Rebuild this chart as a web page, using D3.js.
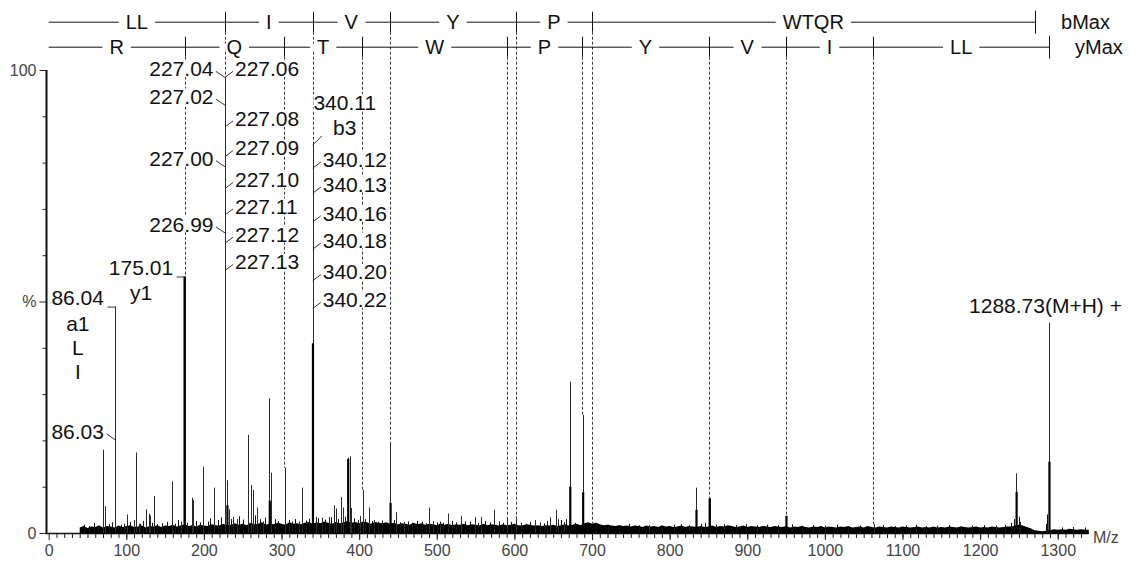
<!DOCTYPE html>
<html><head><meta charset="utf-8">
<script src="https://cdn.jsdelivr.net/npm/d3@7"></script>
<style>body{margin:0;background:#fff;} svg{display:block;font-family:"Liberation Sans",Arial,sans-serif;}</style>
</head><body><svg id="c" width="1131" height="562"></svg>
<script>
// ---------- DATA ----------
// main peaks: [m/z, relative intensity %]
const peaks = [
 [69.9,18.0],[72.0,5.8],[86.1,48.9],[101.3,4.0],[110.0,2.8],[112.9,17.4],[115.9,2.0],
 [125.8,5.1],[128.8,4.2],[130.2,3.8],[136.1,8.0],[159.0,11.2],[170.0,2.5],[175.12,55.4],
 [184.7,7.6],[186.0,7.1],[199.0,14.3],[212.7,9.8],[227.18,98.4],[230.0,11.4],[232.9,5.1],
 [237.0,3.5],[242.0,3.0],[257.0,21.2],[260.9,10.4],[263.0,9.3],[269.0,5.5],[276.0,2.5],
 [284.1,29.1],[286.7,13.0],[303.9,14.1],[322.0,2.5],[326.0,3.3],[326.7,9.8],[340.26,83.8],
 [343.9,3.5],[352.5,3.3],[361.0,3.5],[367.5,6.0],[370.0,5.3],[376.0,7.8],[379.6,5.5],
 [385.5,16.3],[387.7,16.6],[389.0,5.4],[401.0,3.7],[404.5,9.3],[412.7,5.5],[419.0,2.8],
 [439.3,19.4],[448.0,4.5],[457.8,2.4],[490.0,5.5],[495.7,2.6],[504.0,2.5],[514.0,4.2],
 [531.0,3.7],[549.0,3.5],[557.6,3.5],[574.0,5.0],[590.0,3.5],[602.4,3.6],[627.0,2.8],
 [646.0,3.4],[653.5,5.0],[656.0,3.0],[663.5,2.4],[671.2,32.7],[688.0,25.5],[773.0,1.7],
 [833.5,5.0],[834.2,9.8],[851.4,7.5],[950.3,3.7],[1063.5,1.9],[1246.2,12.9],[1288.73,45.4]
];
// broad (thick) parts of the strongest clusters: [m/z, intensity %]
const thickPeaks = [
 [175.12,55.4],[284.9,7.0],[340.5,41.0],[440.5,6.5],[672.0,10.0],[688.6,8.8],
 [834.6,5.0],[851.6,7.5],[950.5,3.7],[1247.0,8.9],[1289.3,15.4],[385.9,16.0],[230.3,6.0]
];
// small noise spikes: [m/z, intensity %]
const spikes = [
 [45,1.8],[52,1.5],[58,2.2],[63,1.6],[78,1.9],[82,2.3],[93,1.8],[97,2.0],[105,2.4],[118,2.0],
 [122,2.6],[133,2.2],[140,1.9],[146,2.1],[152,2.4],[163,2.0],[167,2.8],[178,2.2],[190,2.6],[195,2.3],
 [205,2.5],[208,3.2],[218,2.8],[222,3.4],[235,3.0],[245,3.6],[250,2.9],[266,3.8],[272,3.0],[279,3.3],
 [291,3.0],[296,2.6],[309,2.8],[314,2.5],[318,3.0],[331,2.7],[335,3.1],[347,3.2],[356,2.9],[364,3.4],
 [373,3.0],[382,3.5],[394,3.2],[398,2.8],[408,3.0],[416,2.6],[424,2.4],[430,2.7],[445,2.8],[452,2.3],
 [463,2.5],[468,2.2],[474,2.6],[481,2.4],[486,2.1],[500,2.3],[508,2.2],[520,2.6],[525,2.3],[537,2.5],
 [543,2.4],[553,2.2],[562,2.6],[568,2.3],[580,2.5],[585,2.2],[595,2.4],[609,2.2],[615,2.0],[620,2.4],
 [633,2.3],[638,2.1],[642,2.6],[660,2.8],[666,3.0],[678,2.2],[694,2.0],[705,2.1],[720,1.8],[735,1.7],
 [748,2.0],[760,1.7],[790,1.6],[805,1.8],[815,1.9],[825,1.7],[840,2.0],[845,2.2],[860,1.8],[870,1.9],
 [885,1.7],[898,1.9],[912,1.7],[925,1.8],[940,1.7],[958,1.9],[970,1.6],[985,1.7],[1000,1.6],[1015,1.8],
 [1030,1.5],[1045,1.6],[1075,1.7],[1090,1.5],[1105,1.6],[1118,1.8],[1130,1.5],[1145,1.6],[1160,1.7],
 [1175,1.5],[1190,1.6],[1205,1.7],[1220,1.6],[1232,1.8],[1240,2.2],[1243,3.0],[1250,3.5],[1252,2.4],
 [1285,2.0],[1286.5,4.0],[1305,1.2],[1320,1.3],[1335,1.2]
];
// baseline noise level (%) every 5 m/z from 40 to 1340 (each row = 100 m/z, last row = 1340)
const noiseStart = 40, noiseStep = 5;
const noiseLevels = [
 1.2,1.5,1.1,1.4,1.3,1.6,1.2,1.5,1.4,1.2,1.6,1.3,1.5,1.7,1.3,1.4,1.6,1.2,1.5,1.4,
 1.7,1.3,1.6,1.5,1.8,1.4,1.6,1.9,1.5,1.7,1.4,1.8,1.6,1.5,1.9,1.7,1.6,2.0,1.7,1.8,
 2.1,1.8,2.0,1.7,2.2,1.9,2.0,2.3,1.8,2.1,1.9,2.2,2.0,1.8,2.3,2.0,2.1,1.9,2.2,2.4,
 2.0,2.3,2.1,2.5,2.2,2.0,2.4,2.1,2.3,2.6,2.2,2.4,2.1,2.5,2.3,2.0,2.4,2.2,2.1,2.3,
 2.0,2.2,1.9,2.1,2.0,1.8,2.2,1.9,2.1,1.8,2.0,1.9,1.7,2.1,1.8,2.0,1.7,1.9,1.8,2.0,
 1.7,1.9,1.8,1.6,2.0,1.7,1.9,1.8,1.6,1.9,1.7,1.8,2.0,1.7,1.6,1.9,1.8,1.6,1.7,1.5,
 1.7,1.6,1.8,1.5,1.7,1.9,1.6,1.8,2.0,1.7,2.1,2.3,2.0,2.2,1.9,1.7,1.8,1.6,1.5,1.7,
 1.5,1.6,1.4,1.6,1.5,1.3,1.6,1.4,1.5,1.3,1.6,1.4,1.5,1.3,1.4,1.6,1.3,1.5,1.4,1.3,
 1.5,1.3,1.4,1.6,1.3,1.5,1.4,1.7,1.5,1.3,1.4,1.6,1.3,1.5,1.4,1.3,1.5,1.4,1.3,1.5,
 1.4,1.3,1.5,1.2,1.4,1.3,1.5,1.3,1.2,1.4,1.3,1.5,1.2,1.4,1.3,1.2,1.4,1.3,1.5,1.2,
 1.3,1.4,1.2,1.5,1.3,1.2,1.4,1.3,1.2,1.4,1.3,1.2,1.4,1.3,1.2,1.3,1.4,1.2,1.3,1.2,
 1.4,1.2,1.3,1.2,1.4,1.3,1.2,1.4,1.3,1.2,1.3,1.4,1.2,1.3,1.2,1.4,1.3,1.2,1.3,1.4,
 1.4,1.6,1.8,1.6,1.3,1.0,0.6,0.5,0.4,0.5,0.6,0.8,0.7,0.8,0.7,0.9,0.8,0.7,0.8,0.7,
 0.7
];
// sequence ladders: boundaries (m/z) and residue labels
const bBounds = [0, 227.18, 340.26, 439.33, 602.39, 699.45, 1270.72];
const bResidues = ["LL","I","V","Y","P","WTQR"];
const yBounds = [0, 175.12, 303.18, 404.23, 590.31, 687.36, 850.42, 949.49, 1062.57, 1288.73];
const yResidues = ["R","Q","T","W","P","Y","V","I","LL"];
const ladderNames = ["bMax","yMax"];
// peak annotations: [text, m/z of peak, intensity % of labelled point]
const labelsLeftDiag = [["227.04",227.18,98.4],["227.02",227.18,92.4],["227.00",227.18,79.1],["226.99",227.18,64.8],["86.03",86.1,20.1]];
const labelsRightDiag = [["227.06",227.18,98.4],["227.08",227.18,87.7],["227.09",227.18,81.3],["227.10",227.18,74.4],
 ["227.11",227.18,68.7],["227.12",227.18,62.6],["227.13",227.18,56.7],
 ["340.12",340.26,78.8],["340.13",340.26,73.4],["340.16",340.26,67.2],["340.18",340.26,61.3],["340.20",340.26,54.5],["340.22",340.26,48.5]];
const labelsLeftFlat = [["86.04",86.1,48.9,["a1","L","I"]],["175.01",175.12,55.4,["y1"]]];
const labelAbove = [["340.11",340.26,83.8,"b3"]];
const precursor = [["1288.73(M+H) +",1288.73,45.4]];
const xMajor = [0,100,200,300,400,500,600,700,800,900,1000,1100,1200,1300];
const yTickLabels = [[0,"0"],[50,"%"],[100,"100"]];

// ---------- CHART ----------
const svg = d3.select("#c");
const x = d3.scaleLinear().domain([0,1340]).range([48.66,1088.8]);
const y = d3.scaleLinear().domain([0,100]).range([533,70]);
const FS = 21;
const px = m => Math.round(x(m)) + 0.5;

// intensity lookup for dashed guide lines
const allPeaks = peaks.concat(thickPeaks, spikes);
function noiseAt(m){
  const i = (m-noiseStart)/noiseStep, i0 = Math.max(0,Math.floor(i)), i1 = Math.min(noiseLevels.length-1,i0+1);
  const t = i - i0; return noiseLevels[i0]*(1-t)+noiseLevels[i1]*t;
}
function intensityAt(m){
  let v = noiseAt(m);
  allPeaks.forEach(p => { if (Math.abs(p[0]-m) <= 1.2 && p[1] > v) v = p[1]; });
  return v;
}

const rowY = [21.7, 46.7];
// dashed guide lines
const gDash = svg.append("g");
[[bBounds,0],[yBounds,1]].forEach(([b,r]) => {
  b.slice(1,-1).forEach(m => {
    gDash.append("line").attr("x1",px(m)).attr("x2",px(m))
      .attr("y1",rowY[r]+10).attr("y2",y(intensityAt(m)))
      .attr("stroke","#3a3a3a").attr("stroke-width",1).attr("stroke-dasharray","3,2");
  });
});

// ladders
[[bBounds,bResidues,0],[yBounds,yResidues,1]].forEach(([b,res,r]) => {
  const g = svg.append("g");
  const yy = rowY[r];
  g.append("line").attr("x1",x(b[0])).attr("x2",px(b[b.length-1])).attr("y1",yy+0.5).attr("y2",yy+0.5)
    .attr("stroke","#111").attr("stroke-width",1);
  b.slice(1).forEach((m,i) => {
    const last = i === b.length-2;
    g.append("line").attr("x1",px(m)).attr("x2",px(m)).attr("y1",yy-(last?11:10)).attr("y2",yy+(last?12:10))
      .attr("stroke","#111").attr("stroke-width",1);
  });
  res.forEach((t,i) => {
    const cx = (x(b[i])+x(b[i+1]))/2;
    const tx = g.append("text").attr("x",cx).attr("y",yy+7.3).attr("text-anchor","middle")
      .attr("font-size",20).attr("fill","#111").text(t);
    const bb = tx.node().getBBox();
    g.insert("rect","text").attr("x",bb.x-7).attr("y",yy-3).attr("width",bb.width+14).attr("height",6).attr("fill","#fff");
  });
  g.append("text").attr("x",x(b[b.length-1])+26).attr("y",yy+7.3).attr("font-size",20).attr("fill","#111").text(ladderNames[r]);
});

// axes
const gx = svg.append("g").attr("transform","translate(0,533)");
gx.call(d3.axisBottom(x).tickValues(d3.range(10,1340,10)).tickSize(5).tickFormat(""));
gx.call(g=>g.select(".domain").remove());
const gx2 = svg.append("g").attr("transform","translate(0,533)");
gx2.call(d3.axisBottom(x).tickValues(xMajor).tickSize(7).tickPadding(5).tickFormat(d3.format("d")));
gx2.select(".domain").remove();
gx2.selectAll("text").attr("font-size",16).attr("fill","#444").attr("font-family","Liberation Sans, Arial, sans-serif");
svg.append("line").attr("x1",46).attr("x2",1088.8).attr("y1",533.5).attr("y2",533.5).attr("stroke","#111").attr("stroke-width",1.5);
svg.append("text").attr("x",1093).attr("y",543).attr("font-size",16).attr("fill","#444").text("M/z");

const gy = svg.append("g").attr("transform","translate(46.5,0)");
gy.call(d3.axisLeft(y).tickValues(d3.range(10,100,10).filter(v=>v!==50)).tickSize(4).tickFormat(""));
gy.select(".domain").remove();
const gy2 = svg.append("g").attr("transform","translate(46.5,0)");
gy2.call(d3.axisLeft(y).tickValues(yTickLabels.map(d=>d[0])).tickSize(7).tickPadding(3)
  .tickFormat(v => yTickLabels.find(d=>d[0]===v)[1]));
gy2.select(".domain").remove();
gy2.selectAll("text").attr("font-size",16).attr("fill","#444").attr("font-family","Liberation Sans, Arial, sans-serif");
svg.selectAll(".tick line").attr("stroke","#222");
svg.append("line").attr("x1",46.5).attr("x2",46.5).attr("y1",y(100)).attr("y2",534).attr("stroke","#111").attr("stroke-width",2);

// noise band
const noiseData = noiseLevels.map((v,i)=>({m:noiseStart+i*noiseStep, v}));
svg.append("path").datum(noiseData)
  .attr("d", d3.area().x(d=>x(d.m)).y0(y(0)+1).y1(d=>y(d.v)))
  .attr("fill","#000");

// spikes and peaks
const gp = svg.append("g");
gp.selectAll("line.s").data(spikes).join("line").attr("class","s")
  .attr("x1",d=>px(d[0])).attr("x2",d=>px(d[0])).attr("y1",y(0)).attr("y2",d=>y(d[1]))
  .attr("stroke","#111").attr("stroke-width",1);
gp.selectAll("line.p").data(peaks).join("line").attr("class","p")
  .attr("x1",d=>px(d[0])).attr("x2",d=>px(d[0])).attr("y1",y(0)).attr("y2",d=>y(d[1]))
  .attr("stroke","#2a2a2a").attr("stroke-width",1);
gp.selectAll("line.t").data(thickPeaks).join("line").attr("class","t")
  .attr("x1",d=>x(d[0])).attr("x2",d=>x(d[0])).attr("y1",y(0)).attr("y2",d=>y(d[1]))
  .attr("stroke","#000").attr("stroke-width",2.2);

// labels
const gl = svg.append("g").attr("font-size",FS).attr("fill","#111");
function addText(tx, ty, t, anchor, bg){
  const el = gl.append("text").attr("x",tx).attr("y",ty+7.5).attr("text-anchor",anchor).text(t);
  if (bg){
    const bb = el.node().getBBox();
    gl.insert("rect","text").attr("x",bb.x).attr("y",ty-8).attr("width",bb.width).attr("height",16).attr("fill","#fff");
  }
  return el;
}
const conn = (x1,y1,x2,y2) => gl.append("line").attr("x1",x1).attr("y1",y1).attr("x2",x2).attr("y2",y2)
  .attr("stroke","#333").attr("stroke-width",1);

labelsLeftDiag.forEach(([t,m,v]) => {
  const xp = x(m), yp = y(v);
  conn(xp, yp, xp-9, yp-6);
  addText(xp-11.5, yp-8.7, t, "end", true);
});
labelsRightDiag.forEach(([t,m,v]) => {
  const xp = x(m), yp = y(v);
  conn(xp, yp, xp+8, yp-6);
  addText(xp+10, yp-8.7, t, "start", true);
});
labelsLeftFlat.forEach(([t,m,v,sub]) => {
  const xp = x(m), yp = y(v);
  conn(xp, yp+0.5, xp-8, yp+0.5);
  const el = addText(xp-11.5, yp-9, t, "end", true);
  const bb = el.node().getBBox();
  const cx = bb.x + bb.width/2;
  sub.forEach((s,i) => addText(cx, yp-9+25.5+i*24, s, "middle", false));
});
labelAbove.forEach(([t,m,v,sub]) => {
  const xp = x(m), yp = y(v);
  conn(xp, yp, xp+9, yp-9);
  addText(xp+32, yp-43, t, "middle", true);
  addText(xp+32, yp-18, sub, "middle", false);
});
precursor.forEach(([t,m,v]) => {
  addText(x(m)-3.5, y(v)-17, t, "middle", false);
});
</script></body></html>
